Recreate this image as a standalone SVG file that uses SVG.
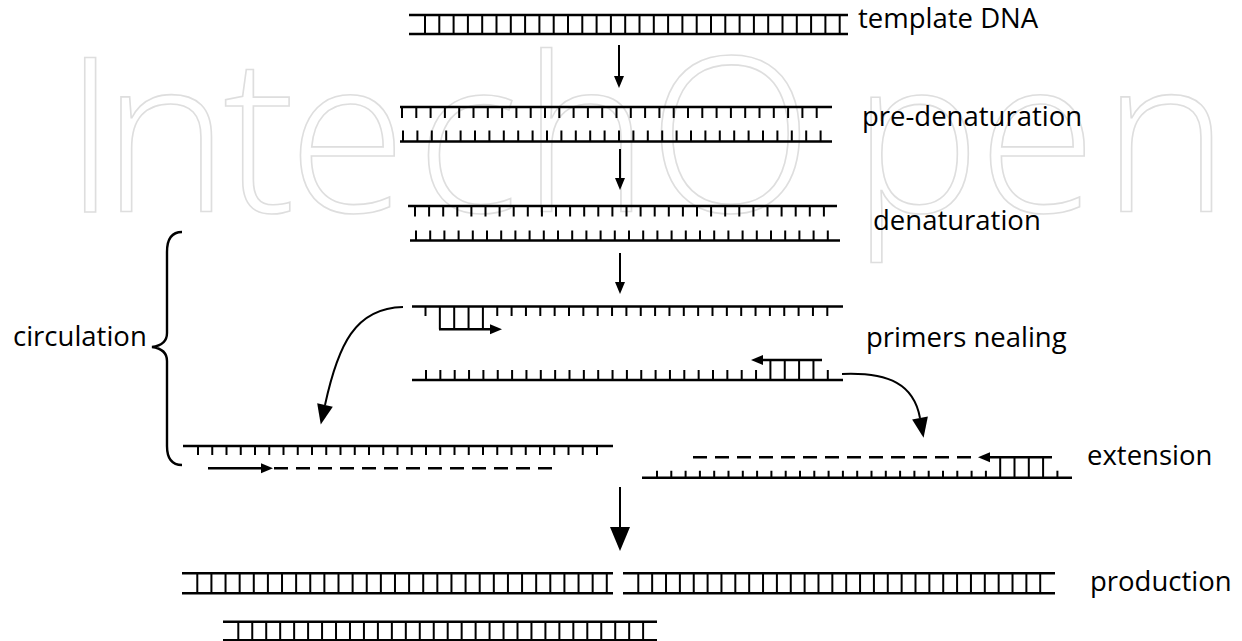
<svg xmlns="http://www.w3.org/2000/svg" width="1242" height="641" viewBox="0 0 1242 641">
  <style>
    .bb { stroke: #000; stroke-width: 2.4; fill: none; }
    .tk { stroke: #000; fill: none; }
    .con { stroke: #000; stroke-width: 2; fill: none; }
    .dash { stroke: #000; stroke-width: 2.4; stroke-dasharray: 14 8; fill: none; }
    .lbl { font-family: "Open Sans", "Liberation Sans", sans-serif; font-size: 27.5px; fill: #000; }
    .wm { font-family: "Open Sans", "Liberation Sans", sans-serif; font-weight: 300; font-size: 216px; fill: none; stroke: #dedede; stroke-width: 1.6; }
  </style>
  <defs>
    <marker id="ah" markerUnits="userSpaceOnUse" markerWidth="12" markerHeight="10" refX="0" refY="5" orient="auto" overflow="visible">
      <path d="M0,0 L12,5 L0,10 z" fill="#000"/>
    </marker>
    <marker id="ahm" markerUnits="userSpaceOnUse" markerWidth="20" markerHeight="16" refX="0" refY="8" orient="auto" overflow="visible">
      <path d="M0,0 L20,8 L0,16 z" fill="#000"/>
    </marker>
    <marker id="ahl" markerUnits="userSpaceOnUse" markerWidth="24" markerHeight="20" refX="0" refY="10" orient="auto" overflow="visible">
      <path d="M0,0 L24,10 L0,20 z" fill="#000"/>
    </marker>
  </defs>

  <rect width="1242" height="641" fill="#fff"/>

  <!-- publisher watermark, one x per letter -->
  <text class="wm" x="63 102 223 288 416 522 648 852 978 1102" y="212">IntechOpen</text>

  <!-- double-stranded template -->
  <g id="template">
    <line class="bb" x1="409" y1="15" x2="848" y2="15"/>
    <line class="bb" x1="409" y1="34" x2="848" y2="34"/>
    <line class="tk" x1="424" y1="24.5" x2="840.7" y2="24.5" stroke-width="19" stroke-dasharray="2 12.3"/>
    <text class="lbl" x="858" y="28">template DNA</text>
  </g>

  <!-- strands starting to separate -->
  <g id="predenaturation">
    <line class="bb" x1="400" y1="107" x2="832" y2="107"/>
    <line class="tk" x1="401" y1="112.5" x2="817.7" y2="112.5" stroke-width="11" stroke-dasharray="2 12.3"/>
    <line class="bb" x1="400" y1="141.5" x2="832" y2="141.5"/>
    <line class="tk" x1="402" y1="136" x2="821.6" y2="136" stroke-width="11" stroke-dasharray="2 12.4"/>
    <text class="lbl" x="862" y="126">pre-denaturation</text>
  </g>

  <g id="denaturation">
    <line class="bb" x1="408" y1="206" x2="837" y2="206"/>
    <line class="tk" x1="414" y1="211.25" x2="824.9" y2="211.25" stroke-width="10.5" stroke-dasharray="2 12.1"/>
    <line class="bb" x1="410" y1="240.5" x2="840" y2="240.5"/>
    <line class="tk" x1="415" y1="235.5" x2="828.8" y2="235.5" stroke-width="10" stroke-dasharray="2 12.2"/>
    <text class="lbl" x="873" y="230">denaturation</text>
  </g>

  <!-- primers bound to each single strand -->
  <g id="annealing">
    <line class="bb" x1="412" y1="306.5" x2="843" y2="306.5"/>
    <line class="tk" x1="424.5" y1="311.25" x2="426.5" y2="311.25" stroke-width="9.5"/>
    <line class="tk" x1="496.25" y1="311.25" x2="828.3" y2="311.25" stroke-width="9.5" stroke-dasharray="2 12.35"/>
    <line class="tk" x1="438.85" y1="317.9" x2="483.9" y2="317.9" stroke-width="22.8" stroke-dasharray="2 12.35"/>
    <line class="bb" x1="439" y1="329.3" x2="490" y2="329.3" marker-end="url(#ah)"/>

    <line class="bb" x1="412" y1="380" x2="843" y2="380"/>
    <line class="tk" x1="425" y1="375" x2="757.05" y2="375" stroke-width="10" stroke-dasharray="2 12.35"/>
    <line class="tk" x1="769.4" y1="370" x2="814.45" y2="370" stroke-width="20" stroke-dasharray="2 12.35"/>
    <line class="tk" x1="826.8" y1="375" x2="828.8" y2="375" stroke-width="10"/>
    <line class="bb" x1="822" y1="360" x2="763" y2="360" marker-end="url(#ah)"/>
    <text class="lbl" x="866" y="347">primers nealing</text>
  </g>

  <!-- primer extension on both strands -->
  <g id="extension-left">
    <line class="bb" x1="183" y1="446" x2="613" y2="446"/>
    <line class="tk" x1="197" y1="450.5" x2="599" y2="450.5" stroke-width="9" stroke-dasharray="2 12.25"/>
    <line class="bb" x1="208" y1="468.3" x2="261" y2="468.3" marker-end="url(#ah)"/>
    <line class="dash" x1="274" y1="468.3" x2="557" y2="468.3"/>
  </g>

  <g id="extension-right">
    <line class="bb" x1="642" y1="477.7" x2="1072" y2="477.7"/>
    <line class="tk" x1="656" y1="474.2" x2="986.9" y2="474.2" stroke-width="7" stroke-dasharray="2 12.3"/>
    <line class="tk" x1="999.2" y1="467.5" x2="1044.1" y2="467.5" stroke-width="20.4" stroke-dasharray="2 12.3"/>
    <line class="tk" x1="1056.4" y1="474.2" x2="1058.4" y2="474.2" stroke-width="7"/>
    <line class="bb" x1="1052" y1="457.3" x2="990" y2="457.3" marker-end="url(#ah)"/>
    <line class="dash" x1="693" y1="457.3" x2="972" y2="457.3"/>
    <text class="lbl" x="1087" y="465">extension</text>
  </g>

  <!-- resulting copies -->
  <g id="production">
    <line class="bb" x1="182" y1="573.3" x2="613" y2="573.3"/>
    <line class="bb" x1="182" y1="593.3" x2="613" y2="593.3"/>
    <line class="tk" x1="196.3" y1="583.3" x2="607.8" y2="583.3" stroke-width="20" stroke-dasharray="2 12.12"/>

    <line class="bb" x1="623" y1="573.3" x2="1055" y2="573.3"/>
    <line class="bb" x1="623" y1="593.3" x2="1055" y2="593.3"/>
    <line class="tk" x1="637.3" y1="583.3" x2="1041.2" y2="583.3" stroke-width="20" stroke-dasharray="2 11.86"/>

    <line class="bb" x1="223" y1="621.7" x2="657" y2="621.7"/>
    <line class="bb" x1="223" y1="640.3" x2="657" y2="640.3"/>
    <line class="tk" x1="237.3" y1="631" x2="644.1" y2="631" stroke-width="18.6" stroke-dasharray="2 11.96"/>
    <text class="lbl" x="1090" y="591">production</text>
  </g>

  <!-- repeated cycle bracket -->
  <g id="circulation">
    <path class="bb" d="M182,232 Q167,232 167,252 L167,333 Q167,345 152,347 Q167,349 167,361 L167,446 Q167,465 182,465"/>
    <text class="lbl" x="13" y="346">circulation</text>
  </g>

  <g id="connectors">
    <line class="con" x1="619" y1="45" x2="619" y2="76" marker-end="url(#ah)"/>
    <line class="con" x1="620" y1="149" x2="620" y2="178" marker-end="url(#ah)"/>
    <line class="con" x1="620" y1="253" x2="620" y2="282" marker-end="url(#ah)"/>
    <path class="con" d="M403,307 C355,308 338,345 325,405" marker-end="url(#ahm)"/>
    <path class="con" d="M842,374 C890,372 914,385 920,418" marker-end="url(#ahm)"/>
    <line class="con" x1="620" y1="487" x2="620" y2="527" marker-end="url(#ahl)"/>
  </g>
</svg>
